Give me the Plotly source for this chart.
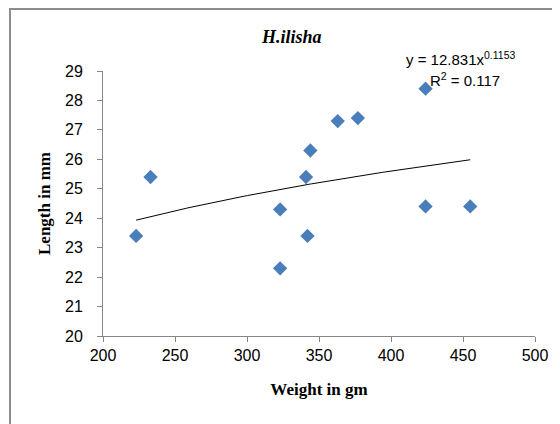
import numpy as np
import plotly.graph_objects as go

# Data
weight_gm = [223, 233, 323, 323, 341, 342, 344, 363, 377, 424, 424, 455]
length_mm = [23.4, 25.4, 24.3, 22.3, 25.4, 23.4, 26.3, 27.3, 27.4, 28.4, 24.4, 24.4]

# Power trendline coefficients shown on chart
coef_a = 12.831
coef_b = 0.1153
r_squared = 0.117

x_ticks = [200, 250, 300, 350, 400, 450, 500]
y_ticks = [20, 21, 22, 23, 24, 25, 26, 27, 28, 29]

tx = np.linspace(min(weight_gm), max(weight_gm), 100)
ty = coef_a * tx ** coef_b

fig = go.Figure()
fig.add_trace(go.Scatter(
    x=weight_gm, y=length_mm, mode="markers",
    marker=dict(symbol="diamond", size=11, color="#4A7EBB"),
    showlegend=False, cliponaxis=False))
fig.add_trace(go.Scatter(
    x=tx, y=ty, mode="lines",
    line=dict(color="black", width=1), showlegend=False))

# page offset (browser body margin)
OFF = 8
W, H = 560 - OFF, 424 - OFF
L = 103 - OFF
R = W - (535 - OFF)
T = 71 - OFF
B = H - (336 - OFF)
pw = W - L - R
ph = H - T - B

def px2paper_x(px):
    return (px - OFF - L) / pw

def px2paper_y(py):
    return (H - B - (py - OFF)) / ph

shapes = [
    dict(type="line", xref="paper", yref="paper",
         x0=px2paper_x(10), x1=px2paper_x(10), y0=px2paper_y(8), y1=px2paper_y(424),
         line=dict(color="#8c8c8c", width=2)),
    dict(type="line", xref="paper", yref="paper",
         x0=px2paper_x(10), x1=px2paper_x(560), y0=px2paper_y(9), y1=px2paper_y(9),
         line=dict(color="#8c8c8c", width=2)),
]

annotations = [
    dict(text="<b><i>H.ilisha</i></b>", xref="paper", yref="paper",
         x=px2paper_x(291), y=px2paper_y(37), showarrow=False,
         font=dict(family="Liberation Serif", size=18, color="black"),
         xanchor="center", yanchor="middle"),
    dict(text="y = %.3fx<sup>%.4f</sup>" % (coef_a, coef_b), xref="paper", yref="paper",
         x=px2paper_x(404), y=px2paper_y(58), showarrow=False,
         font=dict(family="Liberation Sans", size=15, color="black"),
         xanchor="left", yanchor="middle"),
    dict(text="R<sup>2</sup> = %.3f" % r_squared, xref="paper", yref="paper",
         x=px2paper_x(428), y=px2paper_y(79), showarrow=False,
         font=dict(family="Liberation Sans", size=15, color="black"),
         xanchor="left", yanchor="middle"),
]

fig.update_layout(
    width=W, height=H,
    margin=dict(l=L, r=R, t=T, b=B),
    paper_bgcolor="white", plot_bgcolor="white",
    shapes=shapes, annotations=annotations,
    font=dict(family="Liberation Sans", size=15, color="black"),
)
fig.update_xaxes(
    range=[200, 500], tickvals=x_ticks, showgrid=False, zeroline=False,
    showline=True, linecolor="#868686", linewidth=1,
    ticks="outside", ticklen=5, tickcolor="#868686",
    tickfont=dict(family="Liberation Sans", size=16),
    title=dict(text="<b>Weight in gm</b>", standoff=19,
               font=dict(family="Liberation Serif", size=17)),
)
fig.update_yaxes(
    range=[20, 29], tickvals=y_ticks, showgrid=False, zeroline=False,
    showline=True, linecolor="#868686", linewidth=1,
    ticks="outside", ticklen=5, tickcolor="#868686", ticklabelstandoff=11,
    tickfont=dict(family="Liberation Sans", size=16),
    title=dict(text="<b>Length in mm</b>", standoff=10,
               font=dict(family="Liberation Serif", size=17)),
)

fig.write_html("out.html")
